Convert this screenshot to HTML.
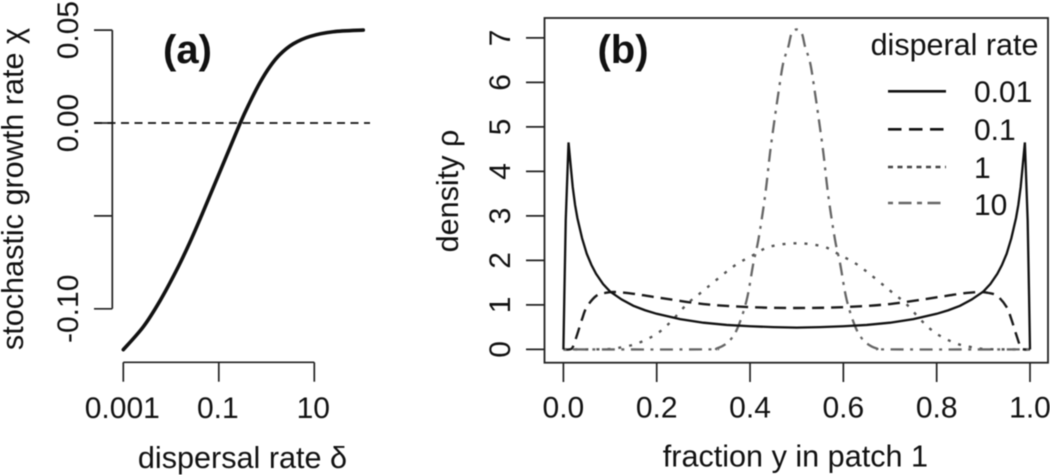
<!DOCTYPE html>
<html lang="en">
<head>
<meta charset="utf-8">
<title>Stochastic growth rate and density by dispersal rate</title>
<style>
html,body{margin:0;padding:0;background:#fff;width:1050px;height:475px;overflow:hidden}
svg{display:block;filter:blur(0.45px)}
text{font-family:"Liberation Sans",Arial,sans-serif;fill:#111}
</style>
</head>
<body>
<svg id="chart" xmlns="http://www.w3.org/2000/svg" width="1050" height="475" viewBox="0 0 1050 475">
  <rect width="1050" height="475" fill="#fff"/>
  <g id="panelA"></g>
  <g id="panelB"></g>
</svg>
<script>
// Panel (a) data
const aXTicks = [0.001, 0.1, 10];
const aXTickLabels = ['0.001', '0.1', '10'];
const aYTicks = [0.05, 0, -0.05, -0.10];
const aYTickLabels = ['0.05', '0.00', '', '-0.10'];
const aDelta = [0.001, 0.00262, 0.00587, 0.0131, 0.0249, 0.0473, 0.106, 0.278, 0.45, 0.729, 1.18, 1.91, 3.63, 8.13, 25, 106];
const aChi = [-0.122, -0.1097, -0.0957, -0.0791, -0.0641, -0.0476, -0.0261, -0.0003, 0.0113, 0.0218, 0.0304, 0.0369, 0.0426, 0.0466, 0.0491, 0.05];
const aReference = [0];

// Panel (b) data
const bXTicks = [0, 0.2, 0.4, 0.6, 0.8, 1];
const bXTickLabels = ['0.0', '0.2', '0.4', '0.6', '0.8', '1.0'];
const bYTicks = [0, 1, 2, 3, 4, 5, 6, 7];
const bYTickLabels = ['0', '1', '2', '3', '4', '5', '6', '7'];
const legendLabels = ['0.01', '0.1', '1', '10'];

const solidX = [0, 0.002, 0.005, 0.011, 0.015, 0.02, 0.025, 0.03, 0.04, 0.05, 0.06, 0.07, 0.085, 0.1, 0.125, 0.15, 0.175, 0.2, 0.25, 0.3, 0.35, 0.4, 0.45, 0.5, 0.55, 0.6, 0.65, 0.7, 0.75, 0.8, 0.825, 0.85, 0.875, 0.9, 0.915, 0.93, 0.94, 0.95, 0.96, 0.97, 0.975, 0.98, 0.985, 0.989, 0.995, 0.998, 1];
const solidY = [0, 1.2, 2.9, 4.65, 4.2, 3.65, 3.25, 2.95, 2.5, 2.15, 1.9, 1.7, 1.47, 1.3, 1.12, 0.98, 0.88, 0.8, 0.68, 0.6, 0.55, 0.52, 0.5, 0.49, 0.5, 0.52, 0.55, 0.6, 0.68, 0.8, 0.88, 0.98, 1.12, 1.3, 1.47, 1.7, 1.9, 2.15, 2.5, 2.95, 3.25, 3.65, 4.2, 4.65, 2.9, 1.2, 0];
const dashX = [0, 0.012, 0.02, 0.03, 0.04, 0.05, 0.07, 0.09, 0.11, 0.15, 0.2, 0.3, 0.4, 0.5, 0.6, 0.7, 0.8, 0.85, 0.89, 0.91, 0.93, 0.95, 0.96, 0.97, 0.98, 0.988, 1];
const dashY = [0, 0, 0.05, 0.35, 0.68, 0.95, 1.2, 1.27, 1.29, 1.25, 1.17, 1.02, 0.95, 0.93, 0.95, 1.02, 1.17, 1.25, 1.29, 1.27, 1.2, 0.95, 0.68, 0.35, 0.05, 0, 0];
const dotX = [0, 0.05, 0.1, 0.13, 0.16, 0.2, 0.23, 0.266, 0.293, 0.364, 0.407, 0.443, 0.5, 0.557, 0.593, 0.636, 0.707, 0.734, 0.77, 0.8, 0.84, 0.87, 0.9, 0.95, 1];
const dotY = [0, 0, 0.01, 0.06, 0.14, 0.35, 0.62, 1.03, 1.26, 1.86, 2.12, 2.31, 2.385, 2.31, 2.12, 1.86, 1.26, 1.03, 0.62, 0.35, 0.14, 0.06, 0.01, 0, 0];
const dotDashX = [0, 0.3, 0.3285, 0.3535, 0.3728, 0.3928, 0.407, 0.4178, 0.432, 0.4428, 0.4514, 0.4606, 0.471, 0.482, 0.489, 0.5, 0.511, 0.518, 0.529, 0.5394, 0.5486, 0.5572, 0.568, 0.5822, 0.593, 0.6072, 0.6272, 0.6465, 0.6715, 0.7, 1];
const dotDashY = [0, 0, 0.02, 0.17, 0.47, 1.11, 1.93, 2.46, 3.43, 4.41, 5.08, 5.75, 6.43, 6.8, 7.1, 7.19, 7.1, 6.8, 6.43, 5.75, 5.08, 4.41, 3.43, 2.46, 1.93, 1.11, 0.47, 0.17, 0.02, 0, 0];

const NS = 'http://www.w3.org/2000/svg';
const panelA = document.getElementById('panelA');
const panelB = document.getElementById('panelB');

// Axis functions
const axX = d => 123.3 + (Math.log10(d) + 3) * 47.75;
const ayY = v => 123 - v * 1858;
const bxX = v => 563.4 + v * 466.6;
const byY = v => 349.4 - v * 44.5;

function make(tag, parent, attrs, content) {
  const el = document.createElementNS(NS, tag);
  for (const k in attrs) el.setAttribute(k, attrs[k]);
  if (content !== undefined) el.textContent = content;
  parent.appendChild(el);
  return el;
}
function polyPath(pts) {
  return 'M' + pts.map(p => p[0].toFixed(2) + ' ' + p[1].toFixed(2)).join('L');
}
function smoothPath(pts) {
  let d = 'M' + pts[0][0].toFixed(2) + ' ' + pts[0][1].toFixed(2);
  for (let i = 0; i < pts.length - 1; i++) {
    const p0 = pts[Math.max(i - 1, 0)], p1 = pts[i], p2 = pts[i + 1], p3 = pts[Math.min(i + 2, pts.length - 1)];
    const k = 1 / 6;
    d += 'C' + (p1[0] + (p2[0] - p0[0]) * k).toFixed(2) + ' ' + (p1[1] + (p2[1] - p0[1]) * k).toFixed(2) + ' ' +
      (p2[0] - (p3[0] - p1[0]) * k).toFixed(2) + ' ' + (p2[1] - (p3[1] - p1[1]) * k).toFixed(2) + ' ' +
      p2[0].toFixed(2) + ' ' + p2[1].toFixed(2);
  }
  return d;
}
const AXIS = { stroke: '#222', 'stroke-width': 1.7, fill: 'none' };
const TICK_FONT = 30;
const TITLE_FONT = 30.6;

// ---------- Panel (a) ----------
const aYAxis = make('path', panelA, Object.assign({ d: 'M112.3 ' + ayY(aYTicks[0]) + 'V' + ayY(aYTicks[3]) }, AXIS));


aYTicks.forEach((v, i) => {
  const t = make('path', panelA, Object.assign({ d: 'M94 ' + ayY(v) + 'H112.3' }, AXIS));
  
  
  if (aYTickLabels[i]) {
    const y = ayY(v);
    const l = make('text', panelA, { transform: 'translate(78 ' + y + ') rotate(-90)', 'text-anchor': 'middle', 'font-size': TICK_FONT }, aYTickLabels[i]);
    
    
  }
});
const aXAxis = make('path', panelA, Object.assign({ d: 'M' + axX(aXTicks[0]) + ' 362.3H' + axX(aXTicks[2]) }, AXIS));


aXTicks.forEach((v, i) => {
  const x = axX(v);
  const t = make('path', panelA, Object.assign({ d: 'M' + x + ' 362.3V381.7' }, AXIS));
  
  
  const l = make('text', panelA, { x: x - 1, y: 418, 'text-anchor': 'middle', 'font-size': TICK_FONT }, aXTickLabels[i]);
  
  
});
const aRef = make('path', panelA, { d: 'M94 ' + ayY(aReference[0]) + 'H370', stroke: '#111', 'stroke-width': 1.8, 'stroke-dasharray': '8 5.5', fill: 'none' });


const aCurve = make('path', panelA, { d: smoothPath(aDelta.map((d, i) => [axX(d), ayY(aChi[i])])), stroke: '#111', 'stroke-width': 3.6, fill: 'none', 'stroke-linecap': 'round' });


const aTitle = make('text', panelA, { x: 187.5, y: 63, 'text-anchor': 'middle', 'font-size': 40, 'font-weight': 'bold' }, '(a)');


const aXTitle = make('text', panelA, { x: 242.5, y: 468, 'text-anchor': 'middle', 'font-size': TITLE_FONT }, 'dispersal rate δ');


const aYTitle = make('text', panelA, { transform: 'translate(23 189) rotate(-90)', 'text-anchor': 'middle', 'font-size': TITLE_FONT }, 'stochastic growth rate χ');



// ---------- Panel (b) ----------
const bBox = make('rect', panelB, { x: 544.5, y: 18, width: 503.5, height: 344.7, fill: 'none', stroke: '#222', 'stroke-width': 1.8 });


bYTicks.forEach((v, i) => {
  const y = byY(v);
  const t = make('path', panelB, Object.assign({ d: 'M526 ' + y + 'H544.5' }, AXIS));
  
  
  const l = make('text', panelB, { transform: 'translate(510 ' + y + ') rotate(-90)', 'text-anchor': 'middle', 'font-size': TICK_FONT }, bYTickLabels[i]);
  
  
});
bXTicks.forEach((v, i) => {
  const x = bxX(v);
  const t = make('path', panelB, Object.assign({ d: 'M' + x + ' 362.7V382' }, AXIS));
  
  
  const l = make('text', panelB, { x: x, y: 417.7, 'text-anchor': 'middle', 'font-size': TICK_FONT }, bXTickLabels[i]);
  
  
});

const DOTDASH = '5 5.5 13 5.5';
const sDot = make('path', panelB, { d: smoothPath(dotX.map((x, i) => [bxX(x), byY(dotY[i])])), stroke: '#555', 'stroke-width': 2.4, 'stroke-dasharray': '3 8', fill: 'none' });


const sDash = make('path', panelB, { d: smoothPath(dashX.map((x, i) => [bxX(x), byY(dashY[i])])), stroke: '#1a1a1a', 'stroke-width': 2.4, 'stroke-dasharray': '12 7', fill: 'none' });


const sDotDash = make('path', panelB, { d: smoothPath(dotDashX.map((x, i) => [bxX(x), byY(dotDashY[i])])), stroke: '#666', 'stroke-width': 2.3, 'stroke-dasharray': '3 6.5 13 6.5', fill: 'none' });


const sSolid = make('path', panelB, { d: polyPath(solidX.map((x, i) => [bxX(x), byY(solidY[i])])), stroke: '#111', 'stroke-width': 2.3, fill: 'none', 'stroke-linejoin': 'miter' });



const bTitle = make('text', panelB, { x: 623, y: 63, 'text-anchor': 'middle', 'font-size': 40, 'font-weight': 'bold' }, '(b)');


const bXTitle = make('text', panelB, { x: 795.4, y: 466.7, 'text-anchor': 'middle', 'font-size': TITLE_FONT }, 'fraction y in patch 1');


const bYTitle = make('text', panelB, { transform: 'translate(458 191) rotate(-90)', 'text-anchor': 'middle', 'font-size': TITLE_FONT }, 'density ρ');



// Legend
const legendTitle = make('text', panelB, { x: 870.6, y: 55, 'font-size': 30.5 }, 'disperal rate');


const legendStyles = [
  { stroke: '#111', 'stroke-width': 2.6 },
  { stroke: '#111', 'stroke-width': 2.6, 'stroke-dasharray': '13.5 7.5' },
  { stroke: '#444', 'stroke-width': 2.4, 'stroke-dasharray': '5 4.5' },
  { stroke: '#666', 'stroke-width': 2.4, 'stroke-dasharray': DOTDASH }
];
const legendLineY = [91.3, 129.3, 167, 203];
const legendTextY = [102, 140, 178, 215];
legendLabels.forEach((lab, i) => {
  const line = make('path', panelB, Object.assign({ d: 'M888 ' + legendLineY[i] + 'H946', fill: 'none' }, legendStyles[i]));
  
  
  const t = make('text', panelB, { x: 974, y: legendTextY[i], 'font-size': TICK_FONT }, lab);
  
  
});
</script>
</body>
</html>
